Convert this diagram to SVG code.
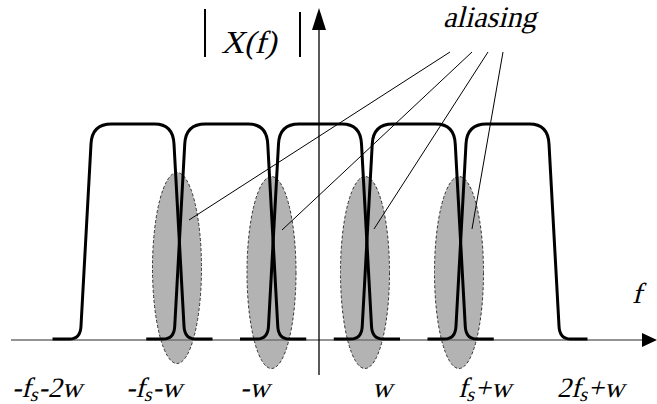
<svg xmlns="http://www.w3.org/2000/svg" width="657" height="404" viewBox="0 0 657 404">
<defs>
<style>
.ell{fill:#b3b3b3;stroke:#333;stroke-width:1;stroke-dasharray:3,2}
.pulse{fill:none;stroke:#000;stroke-width:3;stroke-linejoin:round;stroke-linecap:butt}
.lead{stroke:#000;stroke-width:1;fill:none}
.t{font-family:"Liberation Serif",serif;font-style:normal;fill:#000}
</style>
<path id="pulse" d="M -80,339 H -63 Q -52,339 -51.5,326 L -41.5,144 Q -40.5,124 -21,124 H 22 Q 40.5,124 41.5,144 L 51.5,326 Q 52,339 63,339 H 80"/>
</defs>
<g id="aliasing-regions">
<ellipse id="alias1" class="ell" cx="177" cy="268" rx="24.5" ry="95.5"/>
<ellipse id="alias2" class="ell" cx="271.5" cy="272.5" rx="24.5" ry="96"/>
<ellipse id="alias3" class="ell" cx="365" cy="272.5" rx="24.5" ry="96"/>
<ellipse id="alias4" class="ell" cx="459" cy="272.5" rx="24.5" ry="96"/>
</g>
<g id="axes">
<line x1="11" y1="340" x2="644" y2="340" stroke="#707070" stroke-width="1.5"/>
<polygon points="642,333 657,340 642,347" fill="#000"/>
<line x1="319" y1="375" x2="319" y2="28" stroke="#000" stroke-width="1.3"/>
<polygon points="312,30 319,8 326,30" fill="#000"/>
</g>
<g id="spectra">
<use href="#pulse" class="pulse" x="132.5"/>
<use href="#pulse" class="pulse" x="226.25"/>
<use href="#pulse" class="pulse" x="320"/>
<use href="#pulse" class="pulse" x="413.75"/>
<use href="#pulse" class="pulse" x="507.5"/>
</g>
<g id="connectors">
<line class="lead" x1="450" y1="52" x2="189" y2="220"/>
<line class="lead" x1="472" y1="52" x2="282" y2="230"/>
<line class="lead" x1="488" y1="52" x2="374" y2="229"/>
<line class="lead" x1="503" y1="52" x2="472" y2="229"/>
</g>
<g id="title">
<line x1="205" y1="9" x2="205" y2="57" stroke="#000" stroke-width="2"/>
<line x1="300" y1="12" x2="300" y2="57" stroke="#000" stroke-width="2"/>
<text class="t" transform="translate(221,53) skewX(-14)" font-size="32">X(f)</text>
</g>
<g id="aliasing-label">
<text class="t" transform="translate(443,27) skewX(-14)" font-size="30">aliasing</text>
</g>
<g id="f-label">
<text class="t" transform="translate(632,303) skewX(-14)" font-size="29">f</text>
</g>
<g id="tick-labels" font-size="28">
<text class="t" transform="translate(12,397) skewX(-14)">-f<tspan font-size="20" dy="4">s</tspan><tspan dy="-4">-2w</tspan></text>
<text class="t" transform="translate(126,397) skewX(-14)">-f<tspan font-size="20" dy="4">s</tspan><tspan dy="-4">-w</tspan></text>
<text class="t" transform="translate(240,397) skewX(-14)">-w</text>
<text class="t" transform="translate(372,397) skewX(-14)">w</text>
<text class="t" transform="translate(458,397) skewX(-14)">f<tspan font-size="20" dy="4">s</tspan><tspan dy="-4">+w</tspan></text>
<text class="t" transform="translate(557,397) skewX(-14)">2f<tspan font-size="20" dy="4">s</tspan><tspan dy="-4">+w</tspan></text>
</g>
</svg>
